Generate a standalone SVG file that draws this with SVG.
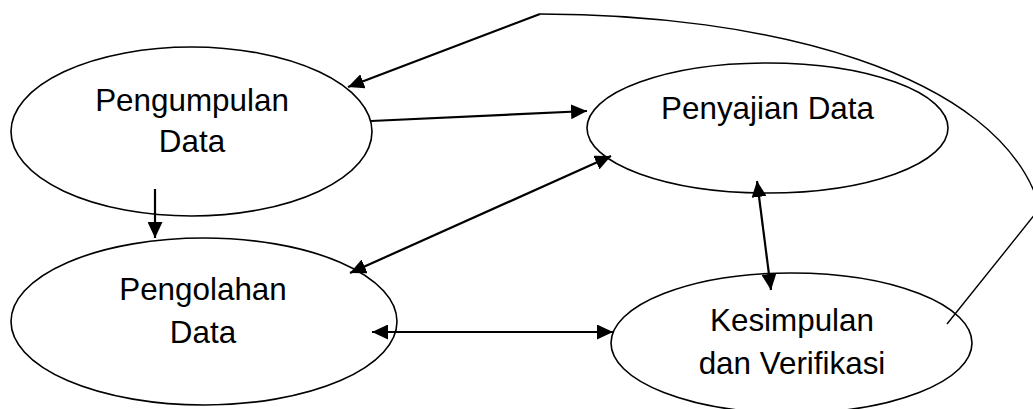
<svg xmlns="http://www.w3.org/2000/svg" width="1033" height="409" viewBox="0 0 1033 409">
<style>
.node ellipse{fill:#fff;stroke:#000;stroke-width:1.6}
.node text{font-family:"Liberation Sans",Arial,sans-serif;font-size:31.4px;fill:#000;text-anchor:middle}
.conn{stroke:#000;stroke-width:2.2;fill:none}
.thin{stroke:#000;stroke-width:1.4;fill:none}
</style>
<defs>
<marker id="ah" markerUnits="userSpaceOnUse" markerWidth="17" markerHeight="15" refX="16" refY="7.5" orient="auto-start-reverse">
<path d="M0,0 L16,7.5 L0,15 z" fill="#000"/>
</marker>
</defs>
<g id="node-pengumpulan" class="node">
<ellipse cx="191.5" cy="131.5" rx="180.5" ry="84.5"/>
<text x="192" y="111">Pengumpulan</text>
<text x="192" y="152">Data</text>
</g>
<g id="node-penyajian" class="node">
<ellipse cx="767.5" cy="128" rx="180.5" ry="65"/>
<text x="767.5" y="119">Penyajian Data</text>
</g>
<g id="node-pengolahan" class="node">
<ellipse cx="204" cy="321.5" rx="193" ry="83.5"/>
<text x="203" y="300">Pengolahan</text>
<text x="203" y="343">Data</text>
</g>
<g id="node-kesimpulan" class="node">
<ellipse cx="791.5" cy="343" rx="180.5" ry="70"/>
<text x="792" y="331">Kesimpulan</text>
<text x="792" y="374">dan Verifikasi</text>
</g>
<g id="connectors">
<path class="thin" d="M540,14 C760,14 1000,70 1040,208 L947,324"/>
<line class="conn" x1="540" y1="14" x2="348" y2="87" marker-end="url(#ah)"/>
<line class="conn" x1="371" y1="121" x2="587" y2="111" marker-end="url(#ah)"/>
<line class="conn" x1="155" y1="189" x2="155" y2="238" marker-end="url(#ah)"/>
<line class="conn" x1="350" y1="273" x2="611" y2="156" marker-start="url(#ah)" marker-end="url(#ah)"/>
<line class="conn" x1="757" y1="181" x2="771" y2="290" marker-start="url(#ah)" marker-end="url(#ah)"/>
<line class="conn" x1="372" y1="332" x2="613" y2="332" marker-start="url(#ah)" marker-end="url(#ah)"/>
</g>
</svg>
